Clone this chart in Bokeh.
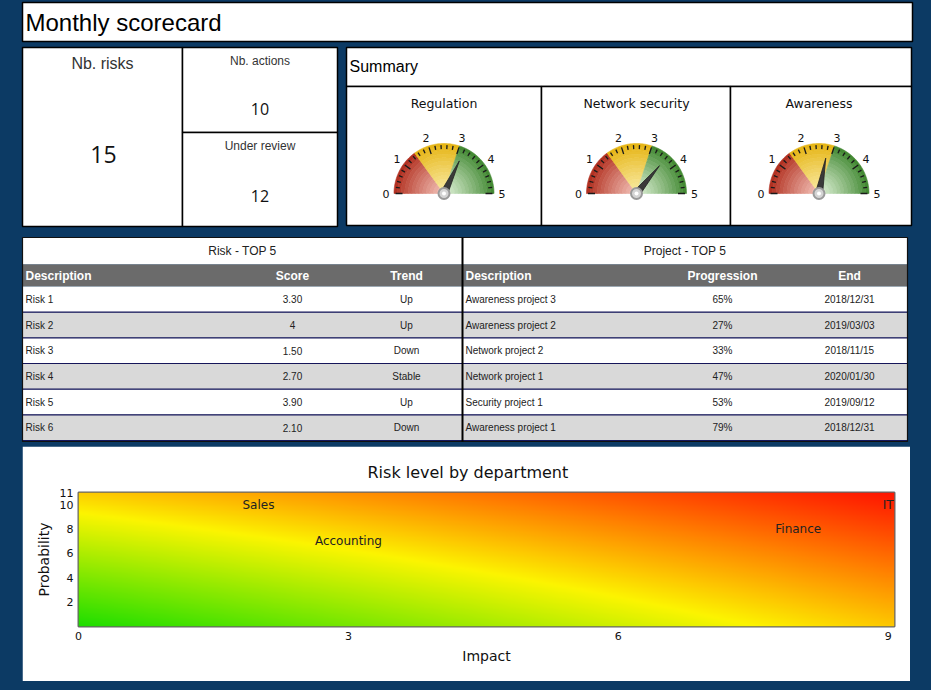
import numpy as np
from bokeh.plotting import figure
from bokeh.layouts import column
from bokeh.models import Range1d, FixedTicker
from bokeh.core.properties import value
from bokeh.embed import file_html
from bokeh.resources import INLINE

# ---------------- data ----------------
page_title = "Monthly scorecard"
kpi_labels = ["Nb. risks", "Nb. actions", "Under review"]
kpi_values = [15, 10, 12]

summary_title = "Summary"
gauge_names = ["Regulation", "Network security", "Awareness"]
gauge_values = [3.2, 3.6, 2.8]
gauge_ticks = [0, 1, 2, 3, 4, 5]
gauge_bands = [0.0, 1.5, 3.0, 5.0]

risk_table_title = "Risk - TOP 5"
risk_columns = ["Description", "Score", "Trend"]
risk_names = ["Risk 1", "Risk 2", "Risk 3", "Risk 4", "Risk 5", "Risk 6"]
risk_scores = [3.3, 4, 1.5, 2.7, 3.9, 2.1]
risk_trends = ["Up", "Up", "Down", "Stable", "Up", "Down"]

project_table_title = "Project - TOP 5"
project_columns = ["Description", "Progression", "End"]
project_names = ["Awareness project 3", "Awareness project 2", "Network project 2",
                 "Network project 1", "Security project 1", "Awareness project 1"]
project_progress = [65, 27, 33, 47, 53, 79]
project_end = ["2018/12/31", "2019/03/03", "2018/11/15", "2020/01/30", "2019/09/12", "2018/12/31"]

heat_title = "Risk level by department"
departments = ["Sales", "Accounting", "Finance", "IT"]
dept_impact = [2, 3, 8, 9]
dept_probability = [10, 7, 8, 10]
impact_ticks = [0, 3, 6, 9]
probability_ticks = [2, 4, 6, 8, 10, 11]
# risk level at the corners: [probability low, probability high] x [impact low, impact high]
corner_levels = [[0.0, 0.60], [0.59, 1.0]]

# ---------------- style ----------------
NAVY = "#0c3a64"
ARIAL = value("Liberation Sans")
VERD = value("DejaVu Sans")
NUMF = value("Open Sans")

W, H = 920, 446
p = figure(width=W, height=H, x_range=Range1d(0, W), y_range=Range1d(H, 0),
           x_axis_type=None, y_axis_type=None, toolbar_location=None,
           output_backend="svg", min_border=0, min_border_left=0, min_border_right=0,
           min_border_top=0, min_border_bottom=0,
           background_fill_color=NAVY, border_fill_color=NAVY, outline_line_color=None)
p.grid.visible = False
p.frame_align = False

# boxes
boxes = [(22, 912, 2, 41),
         (22, 182, 47, 226), (182, 337, 47, 132), (182, 337, 132, 226),
         (346, 911, 47, 86),
         (346, 541, 86, 225), (541, 730, 86, 225), (730, 911, 86, 225)]
p.quad(left=[b[0] for b in boxes], right=[b[1] for b in boxes],
       top=[b[2] for b in boxes], bottom=[b[3] for b in boxes],
       fill_color="white", line_color="black", line_width=1.5)

p.text(x=[25], y=[21.5], text=[page_title], text_font=ARIAL, text_font_size="24px",
       text_baseline="middle", text_align="left", text_color="black")

# KPIs
kpi_x = [102, 259.5, 259.5]
kpi_label_y = [63, 60, 145]
kpi_label_size = ["16px", "12px", "12px"]
kpi_value_y = [154, 108, 195]
kpi_value_size = ["23px", "16px", "16px"]
for i in range(3):
    p.text(x=[kpi_x[i]], y=[kpi_label_y[i]], text=[kpi_labels[i]], text_font=ARIAL,
           text_font_size=kpi_label_size[i], text_align="center", text_baseline="middle",
           text_color="#333333")
    p.text(x=[kpi_x[i] + (1 if i == 0 else 0)], y=[kpi_value_y[i]], text=[str(kpi_values[i])],
           text_font=NUMF, text_font_size=kpi_value_size[i], text_align="center",
           text_baseline="middle", text_color="#111111")

p.text(x=[349], y=[66], text=[summary_title], text_font=ARIAL, text_font_size="16px",
       text_align="left", text_baseline="middle", text_color="black")

# gauges
g_cx = [443.5, 636.0, 818.5]
g_cy = 193.0
R = 50.0
gmax = gauge_ticks[-1]
band_rim = [(176, 44, 28), (230, 180, 18), (62, 134, 46)]
band_center = [(244, 196, 186), (250, 236, 165), (224, 242, 216)]


def ang(v):
    return np.pi * (1 - v / gmax)


nrings = 14
for gi, name in enumerate(gauge_names):
    cx = g_cx[gi]
    p.text(x=[cx], y=[103], text=[name], text_font=VERD, text_font_size="12.5px",
           text_align="center", text_baseline="middle", text_color="#111111")
    xs_list, ys_list, cols = [], [], []
    for bi in range(3):
        a0, a1 = ang(gauge_bands[bi]), ang(gauge_bands[bi + 1])
        aa = np.linspace(a0, a1, 40)
        for k in range(nrings):
            r0 = R * k / nrings
            r1 = R * (k + 1) / nrings
            f = ((k + 0.5) / nrings) ** 1.1
            c = tuple(int(band_center[bi][j] + (band_rim[bi][j] - band_center[bi][j]) * f) for j in range(3))
            ox = cx + r1 * np.cos(aa)
            oy = g_cy - r1 * np.sin(aa)
            ix = cx + r0 * np.cos(aa[::-1])
            iy = g_cy - r0 * np.sin(aa[::-1])
            xs_list.append(list(np.concatenate([ox, ix])))
            ys_list.append(list(np.concatenate([oy, iy])))
            cols.append("#%02x%02x%02x" % c)
    p.patches(xs=xs_list, ys=ys_list, fill_color=cols, line_color=cols, line_width=0.6)

    # ticks
    tv = np.round(np.arange(0, gmax + 0.001, 0.2), 2)
    x0s, y0s, x1s, y1s = [], [], [], []
    for v in tv:
        a = ang(v)
        rin = 41.5 if abs(v - round(v)) < 1e-6 else 44.5
        rout = 48.5
        x0s.append(cx + rin * np.cos(a)); y0s.append(g_cy - rin * np.sin(a))
        x1s.append(cx + rout * np.cos(a)); y1s.append(g_cy - rout * np.sin(a))
    p.segment(x0=x0s, y0=y0s, x1=x1s, y1=y1s, line_color="#1a1a1a", line_width=1.3)

    # tick labels
    lx = [cx + 58 * np.cos(ang(v)) for v in gauge_ticks]
    ly = [g_cy - 58 * np.sin(ang(v)) for v in gauge_ticks]
    p.text(x=lx, y=ly, text=[str(v) for v in gauge_ticks], text_font=VERD,
           text_font_size="11px", text_align="center", text_baseline="middle",
           text_color="#111111")

    # needle
    a = ang(gauge_values[gi])
    tipx, tipy = cx + 36 * np.cos(a), g_cy - 36 * np.sin(a)
    px_, py_ = -np.sin(a), -np.cos(a)
    bx1, by1 = cx + 3.6 * px_, g_cy + 3.6 * py_
    bx2, by2 = cx - 3.6 * px_, g_cy - 3.6 * py_
    tx, ty = cx - 4 * np.cos(a), g_cy + 4 * np.sin(a)
    p.patch(x=[tipx, bx1, tx, bx2], y=[tipy, by1, ty, by2], fill_color="#3a3a3a",
            line_color="#222222", line_width=0.8)
    p.scatter(x=[cx], y=[g_cy], size=11, marker="circle", fill_color="#d4d4d4",
              line_color="#9a9a9a", line_width=2)
    p.scatter(x=[cx], y=[g_cy], size=4, marker="circle", fill_color="white", line_color=None)

# tables
t_top, t_title_bot, t_head_bot, t_bot = 237, 264, 286, 440
n_rows = len(risk_names)
row_h = (t_bot - t_head_bot) / n_rows


def fmt_score(s):
    return str(int(s)) if float(s).is_integer() else "%.2f" % s


tables = [
    dict(x0=22, x1=462, title=risk_table_title, cols=risk_columns,
         col_x=[25, 292, 406], col_align=["left", "center", "center"],
         rows=[risk_names, [fmt_score(s) for s in risk_scores], risk_trends]),
    dict(x0=462, x1=907, title=project_table_title, cols=project_columns,
         col_x=[465, 722, 849], col_align=["left", "center", "center"],
         rows=[project_names, ["%d%%" % v for v in project_progress], project_end]),
]
for t in tables:
    x0, x1 = t["x0"], t["x1"]
    p.quad(left=[x0], right=[x1], top=[t_top], bottom=[t_title_bot], fill_color="white", line_color=None)
    p.quad(left=[x0], right=[x1], top=[t_title_bot], bottom=[t_head_bot], fill_color="#6b6b6b", line_color=None)
    tops = [t_head_bot + i * row_h for i in range(n_rows)]
    bots = [t_head_bot + (i + 1) * row_h for i in range(n_rows)]
    p.quad(left=[x0] * n_rows, right=[x1] * n_rows, top=tops, bottom=bots,
           fill_color=["white" if i % 2 == 0 else "#d9d9d9" for i in range(n_rows)], line_color=None)
    p.segment(x0=[x0] * n_rows, x1=[x1] * n_rows, y0=bots, y1=bots, line_color="#16165a", line_width=1.2)
    p.text(x=[(x0 + x1) / 2], y=[250.5], text=[t["title"]], text_font=ARIAL, text_font_size="12px",
           text_align="center", text_baseline="middle", text_color="#222222")
    for ci in range(3):
        p.text(x=[t["col_x"][ci]], y=[275.5], text=[t["cols"][ci]], text_font=ARIAL,
               text_font_size="12px", text_font_style="bold", text_align=t["col_align"][ci],
               text_baseline="middle", text_color="white")
        p.text(x=[t["col_x"][ci]] * n_rows, y=[(a + b) / 2 for a, b in zip(tops, bots)],
               text=t["rows"][ci], text_font=ARIAL, text_font_size="10px",
               text_align=t["col_align"][ci], text_baseline="middle", text_color="#222222")
# outer borders and separator
p.quad(left=[22], right=[907], top=[t_top], bottom=[t_bot + 1], fill_color=None,
       line_color="#111111", line_width=1.2)
p.segment(x0=[462], x1=[462], y0=[t_top], y1=[t_bot + 1], line_color="black", line_width=2)

# ---------------- heatmap ----------------
hx_end = 9.07
h = figure(width=888, height=235, x_range=Range1d(0, hx_end), y_range=Range1d(0, 11),
           toolbar_location=None, output_backend="svg", title=heat_title,
           min_border_left=56, min_border_right=16, min_border_top=46, min_border_bottom=55,
           border_fill_color="white", background_fill_color="white",
           outline_line_color="#666666", outline_line_width=2, margin=(0, 0, 0, 22))
h.frame_align = False
h.title.align = "left"
h.title.offset = 289
h.title.text_font = "DejaVu Sans"
h.title.text_font_size = "16px"
h.title.text_font_style = "normal"
h.title.text_color = "#111111"
h.title.standoff = 22
h.grid.visible = False

nx, ny = 400, 160
gx = np.linspace(0, hx_end, nx)
gy = np.linspace(0, 11, ny)
S, T = np.meshgrid(np.clip(gx / impact_ticks[-1], 0, 1), gy / probability_ticks[-1])
lv = (corner_levels[0][0] * (1 - S) * (1 - T) + corner_levels[0][1] * S * (1 - T)
      + corner_levels[1][0] * (1 - S) * T + corner_levels[1][1] * S * T)
stops = [0.0, 0.5, 0.75, 1.0]
rch = [30, 252, 255, 255]
gch = [222, 245, 135, 22]
bch = [0, 0, 0, 0]
img = np.empty((ny, nx), dtype=np.uint32)
view = img.view(dtype=np.uint8).reshape((ny, nx, 4))
view[:, :, 0] = np.interp(lv, stops, rch).astype(np.uint8)
view[:, :, 1] = np.interp(lv, stops, gch).astype(np.uint8)
view[:, :, 2] = np.interp(lv, stops, bch).astype(np.uint8)
view[:, :, 3] = 255
h.image_rgba(image=[img], x=0, y=0, dw=hx_end, dh=11)

h.text(x=dept_impact, y=dept_probability, text=departments, text_font=VERD,
       text_font_size="12px", text_align="center", text_baseline="middle", text_color="#222222")

for ax, ticks, lab, lstand in [(h.xaxis[0], impact_ticks, "Impact", 5),
                               (h.yaxis[0], probability_ticks, "Probability", 5)]:
    ax.ticker = FixedTicker(ticks=ticks)
    ax.axis_line_color = None
    ax.major_tick_line_color = None
    ax.minor_tick_line_color = None
    ax.major_tick_out = 0
    ax.major_tick_in = 0
    ax.minor_tick_out = 0
    ax.minor_tick_in = 0
    ax.major_label_text_font = "DejaVu Sans"
    ax.major_label_text_font_size = "11px"
    ax.major_label_text_color = "#111111"
    ax.major_label_standoff = 5
    ax.axis_label = lab
    ax.axis_label_text_font = "DejaVu Sans"
    ax.axis_label_text_font_size = "14px"
    ax.axis_label_text_font_style = "normal"
    ax.axis_label_text_color = "#111111"
    ax.axis_label_standoff = lstand

lay = column(p, h, spacing=0)
html = file_html(lay, INLINE, title="Monthly scorecard")
html = html.replace("</head>", "<style>html,body{margin:0;padding:0;background:%s;}</style></head>" % NAVY, 1)
open("out.html", "w").write(html)
